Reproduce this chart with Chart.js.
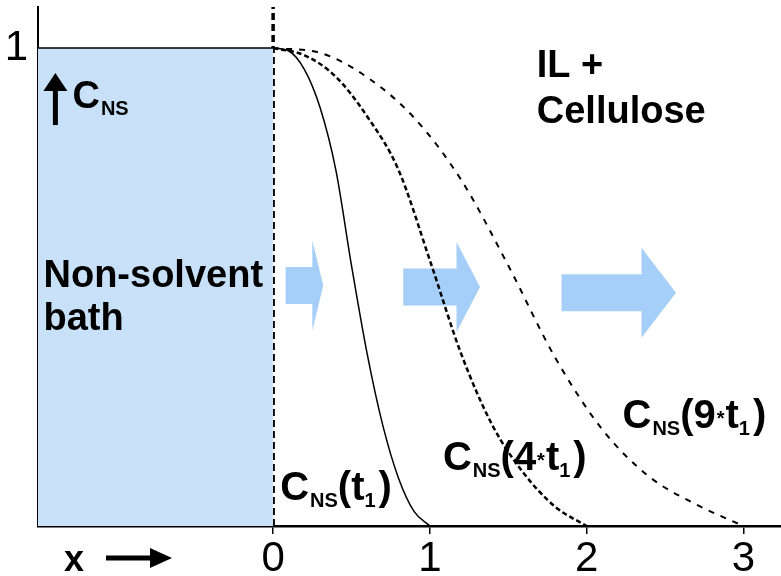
<!DOCTYPE html>
<html>
<head>
<meta charset="utf-8">
<script src="https://cdn.jsdelivr.net/npm/chart.js@4.4.1/dist/chart.umd.min.js"></script>
<style>
  html, body { margin: 0; padding: 0; background: #fff; }
  #wrap { width: 781px; height: 576px; position: relative; }
</style>
</head>
<body>
<div id="wrap"><canvas id="diffusionChart"></canvas></div>
<script>
// --- Data ---
const xTicks = [0, 1, 2, 3];
const yTicks = [1];
const xRange = [-1.5, 3.24];
const yRange = [0, 1.086];

// non-solvent bath (x < 0), concentration 1
const bathX = [-1.5, 0];
const bathY = [1, 1];
const interfaceX = 0;

// concentration profiles
const t1X = [0, 0.1, 0.2, 0.3, 0.4, 0.5, 0.6, 0.7, 0.8, 0.9, 1.0];
const t1Y = [1, 0.994, 0.955, 0.875, 0.745, 0.545, 0.36, 0.21, 0.10, 0.03, 0];
const t4X = [0, 0.2, 0.4, 0.6, 0.8, 1.0, 1.2, 1.4, 1.6, 1.8, 2.0];
const t4Y = [1, 0.985, 0.94, 0.857, 0.745, 0.556, 0.36, 0.21, 0.11, 0.04, 0];
const t9X = [0, 0.3, 0.6, 0.9, 1.2, 1.5, 1.8, 2.1, 2.4, 2.7, 3.0];
const t9Y = [1, 0.99, 0.939, 0.854, 0.724, 0.545, 0.352, 0.202, 0.103, 0.045, 0];

// block arrows (data units): tail, neck, tip, centre height
const arrowTail = [0.08, 0.83, 1.84];
const arrowNeck = [0.25, 1.17, 2.35];
const arrowTip = [0.32, 1.32, 2.57];
const arrowY = [0.503, 0.5, 0.488];

const pts = (xs, ys) => xs.map((x, i) => ({ x: x, y: ys[i] }));

const BLUE_FILL = '#c8e0f8';
const ARROW_BLUE = 'rgba(160, 204, 248, 0.95)';
const FONT = '"Liberation Sans", Arial, Helvetica, sans-serif';
const NARROW = '"Liberation Sans Narrow", "Liberation Sans", Arial, sans-serif';

// draw a label made of [text, size, dy, gap] pieces
function richText(ctx, x, y, parts) {
    let cx = x;
    parts.forEach(p => {
        ctx.font = 'bold ' + p[1] + 'px ' + FONT;
        ctx.fillText(p[0], cx, y + (p[2] || 0));
        cx += ctx.measureText(p[0]).width + (p[3] || 0);
    });
}

const decorations = {
    id: 'decorations',
    beforeDatasetsDraw(chart) {
        const { ctx, scales: { x, y } } = chart;
        ctx.save();
        // block arrows
        ctx.fillStyle = ARROW_BLUE;
        arrowTail.forEach((t, i) => {
            const cy = y.getPixelForValue(arrowY[i]);
            const body = 18.5, head = 45;
            const x0 = x.getPixelForValue(t), x1 = x.getPixelForValue(arrowNeck[i]), x2 = x.getPixelForValue(arrowTip[i]);
            ctx.beginPath();
            ctx.moveTo(x0, cy - body);
            ctx.lineTo(x1, cy - body);
            ctx.lineTo(x1, cy - head);
            ctx.lineTo(x2, cy);
            ctx.lineTo(x1, cy + head);
            ctx.lineTo(x1, cy + body);
            ctx.lineTo(x0, cy + body);
            ctx.closePath();
            ctx.fill();
        });

        ctx.fillStyle = '#000';
        ctx.textBaseline = 'alphabetic';
        ctx.textAlign = 'left';
        ctx.font = 'bold 38px ' + FONT;
        ctx.fillText('IL +', x.getPixelForValue(1.682), y.getPixelForValue(0.939));
        ctx.fillText('Cellulose', x.getPixelForValue(1.682), y.getPixelForValue(0.843));

        // curve labels
        richText(ctx, x.getPixelForValue(0.045), y.getPixelForValue(0.054),
            [['C', 40, 0, 1], ['NS', 20, 7], ['(t', 40, 0], ['1', 20, 7, 3], [')', 40, 0]]);
        richText(ctx, x.getPixelForValue(1.083), y.getPixelForValue(0.117),
            [['C', 40, 0, 1], ['NS', 20, 7], ['(4', 40, 0, 1], ['*', 20, -3, 1], ['t', 40, 0], ['1', 20, 7, 3], [')', 40, 0]]);
        richText(ctx, x.getPixelForValue(2.229), y.getPixelForValue(0.205),
            [['C', 40, 0, 1], ['NS', 20, 7], ['(9', 40, 0, 1], ['*', 20, -3, 1], ['t', 40, 0], ['1', 20, 7, 3], [')', 40, 0]]);
        ctx.restore();
    },
    afterDatasetsDraw(chart) {
        const { ctx, scales: { x, y } } = chart;
        ctx.save();
        ctx.fillStyle = '#000';
        ctx.textBaseline = 'alphabetic';
        ctx.textAlign = 'left';

        // up arrow + C_NS inside the bath
        const ax = x.getPixelForValue(-1.389);
        const aTop = y.getPixelForValue(0.948), aBot = y.getPixelForValue(0.839);
        ctx.strokeStyle = '#000';
        ctx.lineWidth = 5;
        ctx.beginPath();
        ctx.moveTo(ax, aBot);
        ctx.lineTo(ax, aTop + 14);
        ctx.stroke();
        ctx.beginPath();
        ctx.moveTo(ax, aTop);
        ctx.lineTo(ax - 12, aTop + 18);
        ctx.lineTo(ax + 12, aTop + 18);
        ctx.closePath();
        ctx.fill();
        richText(ctx, x.getPixelForValue(-1.28), y.getPixelForValue(0.874), [['C', 38, 0, 1], ['NS', 20, 7]]);

        ctx.font = 'bold 38px ' + FONT;
        ctx.fillText('Non-solvent', x.getPixelForValue(-1.465), y.getPixelForValue(0.5));
        ctx.fillText('bath', x.getPixelForValue(-1.465), y.getPixelForValue(0.41));
        ctx.restore();
    },
    afterDraw(chart) {
        const { ctx, chartArea } = chart;
        ctx.save();
        // x -> under the axis
        ctx.fillStyle = '#000';
        ctx.font = 'bold 36px ' + FONT;
        ctx.textBaseline = 'alphabetic';
        ctx.fillText('x', 64, chartArea.bottom + 45);
        ctx.strokeStyle = '#000';
        ctx.lineWidth = 5;
        ctx.beginPath();
        ctx.moveTo(106, chartArea.bottom + 32);
        ctx.lineTo(155, chartArea.bottom + 32);
        ctx.stroke();
        ctx.beginPath();
        ctx.moveTo(172, chartArea.bottom + 32);
        ctx.lineTo(150, chartArea.bottom + 22);
        ctx.lineTo(150, chartArea.bottom + 42);
        ctx.closePath();
        ctx.fill();
        ctx.restore();
    }
};

const ctx = document.getElementById('diffusionChart').getContext('2d');
new Chart(ctx, {
    type: 'scatter',
    data: {
        datasets: [
            {
                label: 'bath',
                data: pts(bathX, bathY),
                showLine: true,
                borderColor: '#000',
                borderWidth: 1.5,
                backgroundColor: BLUE_FILL,
                fill: 'origin',
                pointRadius: 0
            },
            {
                label: 'interface',
                data: pts([interfaceX, interfaceX], yRange),
                showLine: true,
                borderColor: '#000',
                borderWidth: 3.5,
                borderDash: [7, 4],
                pointRadius: 0
            },
            {
                label: 'C_NS(t1)',
                data: pts(t1X, t1Y),
                showLine: true,
                borderColor: '#000',
                borderWidth: 1.5,
                cubicInterpolationMode: 'monotone',
                pointRadius: 0
            },
            {
                label: 'C_NS(4*t1)',
                data: pts(t4X, t4Y),
                showLine: true,
                borderColor: '#000',
                borderWidth: 2.5,
                borderDash: [5, 3],
                cubicInterpolationMode: 'monotone',
                pointRadius: 0
            },
            {
                label: 'C_NS(9*t1)',
                data: pts(t9X, t9Y),
                showLine: true,
                borderColor: '#000',
                borderWidth: 2,
                borderDash: [6, 7],
                cubicInterpolationMode: 'monotone',
                pointRadius: 0
            }
        ]
    },
    options: {
        responsive: true,
        maintainAspectRatio: false,
        animation: false,
        layout: { padding: { top: 7, right: 0, bottom: 0, left: 0 } },
        plugins: { legend: { display: false }, tooltip: { enabled: false } },
        scales: {
            x: {
                type: 'linear',
                min: xRange[0],
                max: xRange[1],
                afterBuildTicks: s => { s.ticks = xTicks.map(v => ({ value: v })); },
                afterFit: s => { s.height = 50; s.paddingLeft = 0; s.paddingRight = 0; },
                ticks: {
                    color: '#000',
                    font: { family: NARROW, size: 42 },
                    padding: 0,
                    maxRotation: 0
                },
                grid: { drawOnChartArea: false, color: '#000', lineWidth: 1.5, tickLength: 8 },
                border: { color: '#000', width: 2.5 }
            },
            y: {
                type: 'linear',
                min: yRange[0],
                max: yRange[1],
                afterBuildTicks: s => { s.ticks = yTicks.map(v => ({ value: v })); },
                afterFit: s => { s.width = 38; s.paddingTop = 0; s.paddingBottom = 0; },
                ticks: {
                    color: '#000',
                    font: { family: NARROW, size: 42 },
                    padding: 10
                },
                grid: { display: false, drawTicks: false },
                border: { color: '#000', width: 2 }
            }
        }
    },
    plugins: [decorations]
});
</script>
</body>
</html>
